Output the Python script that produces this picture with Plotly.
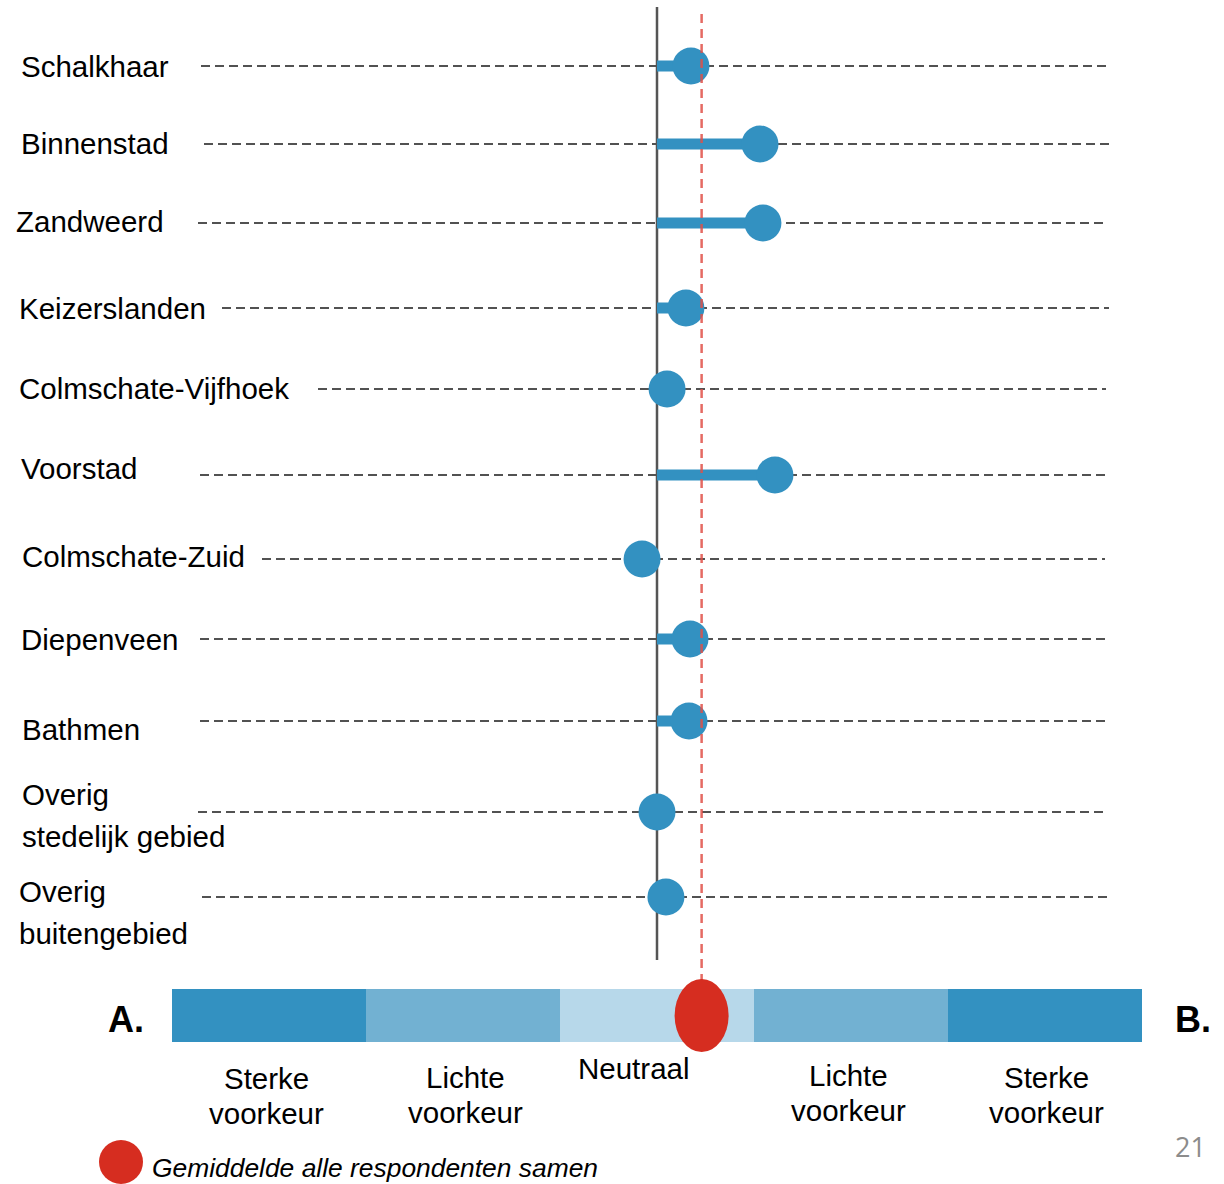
import plotly.graph_objects as go

# ---------------- data ----------------
categories = ["Schalkhaar", "Binnenstad", "Zandweerd", "Keizerslanden",
              "Colmschate-Vijfhoek", "Voorstad", "Colmschate-Zuid",
              "Diepenveen", "Bathmen", "Overig\nstedelijk gebied",
              "Overig\nbuitengebied"]
# score relative to "Neutraal" (0), one unit = one scale segment
scores = [0.175, 0.531, 0.546, 0.149, 0.052, 0.608, -0.077,
          0.170, 0.165, 0.0, 0.046]
average_all = 0.23

scale_labels = ["Sterke\nvoorkeur", "Lichte\nvoorkeur", "Neutraal",
                "Lichte\nvoorkeur", "Sterke\nvoorkeur"]
scale_starts = [-2.5, -1.5, -0.5, 0.5, 1.5]
scale_widths = [1, 1, 1, 1, 1]
legend_text = "Gemiddelde alle respondenten samen"
end_a, end_b = "A.", "B."
page_number = "21"

# ---------------- layout helpers ----------------
W, H = 1224, 1184
X0PX, UNIT = 657.0, 194.0          # pixel of neutral centre, pixels per unit


def px(p):
    return (p - X0PX) / UNIT


row_y = [66, 144, 223, 308, 389, 475, 559, 639, 721, 812, 897]
label_x = [19, 19, 14, 17, 17, 19, 20, 19, 20, 20, 17]
label_y = [66, 143, 221, 308, 388, 468, 556, 639, 729, 815, 912]
line_start = [201, 204, 198, 222, 318, 200, 262, 200, 200, 198, 202]
line_end = [1107, 1109, 1104, 1109, 1106, 1105, 1105, 1105, 1105, 1104, 1107]
scale_label_x = [266, 465, 634, 848, 1046]
scale_label_y = [1096, 1095, 1068, 1093, 1095]

BLUE = "#3391c1"
SCALE_COLORS = ["#3391c1", "#72b1d2", "#b7d8ea", "#72b1d2", "#3391c1"]
RED = "#d62d20"
FONT = "Liberation Sans, Arial, sans-serif"

fig = go.Figure()

# scale bar (bars are drawn beneath scatter layers)
fig.add_trace(go.Bar(x=scale_widths, base=scale_starts, y=[1015.5] * 5,
                     orientation="h", width=53,
                     marker=dict(color=SCALE_COLORS, line=dict(width=0)),
                     hoverinfo="skip", showlegend=False))

# dashed guide lines per row
for i in range(len(categories)):
    fig.add_trace(go.Scatter(
        x=[px(line_start[i]), px(line_end[i])], y=[row_y[i], row_y[i]],
        mode="lines", line=dict(color="#1a1a1a", width=1.3, dash="9px,5px"),
        hoverinfo="skip", showlegend=False))

# neutral vertical line
fig.add_trace(go.Scatter(x=[0, 0], y=[7, 960], mode="lines",
                         line=dict(color="#555555", width=2.5),
                         hoverinfo="skip", showlegend=False))

# lollipop stems
stem_x, stem_y = [], []
for v, y in zip(scores, row_y):
    stem_x += [0, v, None]
    stem_y += [y, y, None]
fig.add_trace(go.Scatter(x=stem_x, y=stem_y, mode="lines",
                         line=dict(color=BLUE, width=11),
                         hoverinfo="skip", showlegend=False))

# lollipop heads
fig.add_trace(go.Scatter(x=scores, y=row_y, mode="markers",
                         marker=dict(size=37, color=BLUE, line=dict(width=0)),
                         hoverinfo="skip", showlegend=False))

# average dashed line
fig.add_trace(go.Scatter(x=[average_all, average_all], y=[14, 985], mode="lines",
                         line=dict(color="rgba(224,80,72,0.85)", width=2.5,
                                   dash="9px,6px"),
                         hoverinfo="skip", showlegend=False))

# average red ellipse on scale
half_w = 27 / UNIT
fig.add_shape(type="circle", xref="x", yref="y",
              x0=average_all - half_w, x1=average_all + half_w,
              y0=979, y1=1052, fillcolor=RED, line=dict(width=0), layer="above")

# legend marker
fig.add_trace(go.Scatter(x=[px(121)], y=[1162], mode="markers",
                         marker=dict(size=44, color=RED, line=dict(width=0)),
                         hoverinfo="skip", showlegend=False))

# row labels
for i, cat in enumerate(categories):
    lines = cat.split("\n")
    if len(lines) == 1:
        ys = [label_y[i]]
    else:
        ys = [label_y[i] - 21, label_y[i] + 21]
    for ln, yy in zip(lines, ys):
        fig.add_annotation(x=px(label_x[i]), y=yy, text=ln, showarrow=False,
                           xanchor="left", yanchor="middle",
                           font=dict(family=FONT, size=29.5, color="#000"))

# scale labels
for i, lab in enumerate(scale_labels):
    lines = lab.split("\n")
    cx = px(scale_label_x[i])
    if len(lines) == 1:
        ys = [scale_label_y[i]]
    else:
        ys = [scale_label_y[i] - 17.5, scale_label_y[i] + 17.5]
    for ln, yy in zip(lines, ys):
        fig.add_annotation(x=cx, y=yy, text=ln, showarrow=False,
                           xanchor="center", yanchor="middle",
                           font=dict(family=FONT, size=29.5, color="#000"))

# A. / B.
fig.add_annotation(x=px(126), y=1019, text="<b>%s</b>" % end_a, showarrow=False,
                   xanchor="center", yanchor="middle",
                   font=dict(family=FONT, size=36, color="#000"))
fig.add_annotation(x=px(1193), y=1019, text="<b>%s</b>" % end_b, showarrow=False,
                   xanchor="center", yanchor="middle",
                   font=dict(family=FONT, size=36, color="#000"))

# legend text
fig.add_annotation(x=px(150), y=1168, text="<i>%s</i>" % legend_text, showarrow=False,
                   xanchor="left", yanchor="middle",
                   font=dict(family=FONT, size=26.4, color="#000"))

# page number
fig.add_annotation(x=px(1190), y=1146, text=page_number, showarrow=False,
                   xanchor="center", yanchor="middle",
                   font=dict(family="Open Sans, sans-serif", size=27, color="#8c8c8c"))

fig.update_layout(
    width=W, height=H, margin=dict(l=0, r=0, t=0, b=0),
    paper_bgcolor="white", plot_bgcolor="white", barmode="overlay",
    xaxis=dict(range=[px(0), px(W)], visible=False, fixedrange=True),
    yaxis=dict(range=[H, 0], visible=False, fixedrange=True),
    showlegend=False,
)

fig.write_html("out.html",
               config={"displayModeBar": False},
               post_script="document.body.style.margin='0';"
                           "document.body.style.overflow='hidden';")
